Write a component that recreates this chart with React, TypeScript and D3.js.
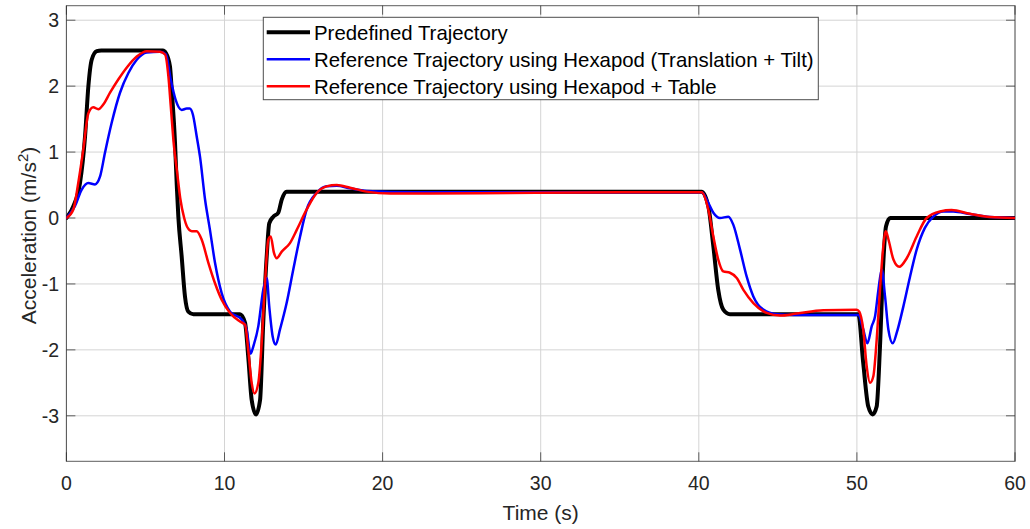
import React from "react";
import * as d3 from "d3";

// ---------- data ----------
const predefT = [0,0.44,0.86,1.18,1.39,1.6,1.92,2.2,6.1,6.3,6.55,6.66,6.87,6.98,7.08,7.29,7.5,7.71,8.03,10.98,11.3,11.5,11.72,11.99,12.25,12.45,12.67,12.83,13.09,13.4,13.62,13.93,40.18,40.6,40.92,41.23,41.55,41.97,50.09,50.4,50.72,51.0,51.25,51.46,51.67,51.84,52.1,60];
const predefA = [0,0.18,0.53,1.24,2.0,2.4,2.53,2.54,2.54,2.5,2.3,1.95,1.14,0.5,0.02,-0.58,-1.19,-1.42,-1.46,-1.46,-1.59,-2.1,-2.76,-2.98,-2.76,-1.59,-0.58,-0.08,0.02,0.08,0.28,0.4,0.4,0.18,-0.43,-1.09,-1.39,-1.46,-1.46,-2.2,-2.86,-2.98,-2.86,-1.95,-0.68,-0.13,0,0];

const hexT = [0,0.54,0.97,1.39,1.81,2.13,2.44,2.86,3.39,3.92,4.45,5.08,5.92,6.3,6.6,6.9,7.29,7.61,7.8,8.0,8.24,8.45,8.77,9.08,9.4,9.82,10.35,11.09,11.4,11.65,11.82,12.14,12.45,12.67,12.83,13.05,13.24,13.51,13.93,14.35,14.78,15.2,15.83,16.46,17.1,17.94,19,22,30,40.18,40.6,40.92,41.34,41.87,42.18,42.61,43.03,43.45,44.08,44.93,46,50.09,50.4,50.66,50.94,51.15,51.36,51.57,51.78,51.99,52.27,52.52,52.94,53.36,53.78,54.3,54.83,55.46,56.1,57.15,58.4,60];
const hexA = [0,0.18,0.43,0.53,0.51,0.63,0.99,1.44,1.9,2.2,2.4,2.51,2.52,2.48,2.1,1.8,1.64,1.66,1.66,1.57,1.24,0.93,0.28,-0.18,-0.68,-1.14,-1.42,-1.54,-1.69,-2.06,-1.95,-1.64,-1.09,-0.91,-1.34,-1.8,-1.92,-1.69,-1.29,-0.78,-0.28,0.13,0.38,0.48,0.49,0.45,0.41,0.39,0.39,0.39,0.23,0.08,0,0.02,-0.1,-0.48,-0.89,-1.19,-1.39,-1.46,-1.47,-1.47,-1.69,-1.9,-1.64,-1.49,-1.09,-0.78,-1.19,-1.69,-1.9,-1.74,-1.34,-0.89,-0.48,-0.15,0.02,0.1,0.1,0.06,0.015,0];

const tableT = [0,0.44,0.75,1.07,1.39,1.7,2.02,2.33,2.76,3.28,3.81,4.45,5.08,5.92,6.24,6.45,6.6,6.8,7.0,7.2,7.45,7.65,7.93,8.24,8.56,8.98,9.4,9.82,10.35,10.98,11.3,11.5,11.72,11.9,12.14,12.35,12.56,12.77,12.92,13.13,13.3,13.62,14.14,14.57,15.2,15.83,16.46,17.1,17.94,19,20.5,23,28,35,40.18,40.6,40.92,41.23,41.55,41.97,42.4,42.82,43.45,44.29,45.14,46.19,47.88,49.99,50.15,50.4,50.62,50.83,51.04,51.25,51.46,51.67,51.83,52.0,52.31,52.68,53.15,53.78,54.41,55.26,55.99,57.15,58.41,60];
const tableA = [0,0.13,0.53,1.04,1.59,1.68,1.65,1.72,1.9,2.1,2.28,2.45,2.53,2.52,2.48,2.15,1.7,1.1,0.7,0.3,0.0,-0.14,-0.2,-0.2,-0.33,-0.68,-0.99,-1.24,-1.44,-1.57,-1.62,-2.0,-2.5,-2.66,-2.5,-1.9,-0.99,-0.33,-0.28,-0.53,-0.61,-0.51,-0.38,-0.18,0.13,0.38,0.48,0.5,0.46,0.4,0.37,0.37,0.38,0.39,0.39,0.13,-0.28,-0.63,-0.81,-0.83,-0.91,-1.09,-1.29,-1.44,-1.48,-1.45,-1.4,-1.39,-1.42,-1.69,-2.25,-2.5,-2.4,-1.85,-1.09,-0.43,-0.2,-0.33,-0.63,-0.74,-0.61,-0.28,0,0.1,0.12,0.065,0.015,0];

const xTicks = [0, 10, 20, 30, 40, 50, 60];
const yTicks = [-3, -2, -1, 0, 1, 2, 3];
const legendLabels = [
  "Predefined Trajectory",
  "Reference Trajectory using Hexapod (Translation + Tilt)",
  "Reference Trajectory using Hexapod + Table",
];

// ---------- layout ----------
const W = 1030, H = 529;
const L = 66.4, R = 1015, T = 5.7, B = 461.3;
const FONT = "'Liberation Sans', Arial, Helvetica, sans-serif";
const AX = "#262626";

export default function App() {
  const x = d3.scaleLinear().domain([0, 60]).range([L, R]);
  const y = d3.scaleLinear().domain([-3.69, 3.22]).range([B, T]);
  const line = d3
    .line<[number, number]>()
    .x((d) => x(d[0]))
    .y((d) => y(d[1]))
    .curve(d3.curveMonotoneX);
  const zip = (t: number[], a: number[]) => t.map((v, i) => [v, a[i]] as [number, number]);

  const series = [
    { d: zip(predefT, predefA), color: "#000000", w: 4 },
    { d: zip(hexT, hexA), color: "#0000ff", w: 2.5 },
    { d: zip(tableT, tableA), color: "#ff0000", w: 2.5 },
  ];

  const legX = 263.3, legY = 17.3, legW = 555, legH = 82.4;
  const rowY = [33, 60, 87];

  return (
    <div style={{ position: "absolute", left: 0, top: 0 }}>
      <svg width={W} height={H} style={{ display: "block", background: "#fff" }}>
        <rect x={0} y={0} width={W} height={H} fill="#fff" />
        <defs>
          <clipPath id="plotclip">
            <rect x={L} y={T} width={R - L} height={B - T} />
          </clipPath>
        </defs>
        {/* grid */}
        {xTicks.map((t) => (
          <line key={"gx" + t} x1={x(t)} x2={x(t)} y1={T} y2={B} stroke="#d4d4d4" strokeWidth={1} />
        ))}
        {yTicks.map((t) => (
          <line key={"gy" + t} x1={L} x2={R} y1={y(t)} y2={y(t)} stroke="#d4d4d4" strokeWidth={1} />
        ))}
        {/* ticks */}
        {xTicks.map((t) => (
          <g key={"tx" + t}>
            <line x1={x(t)} x2={x(t)} y1={B} y2={B - 9} stroke={AX} strokeOpacity={0.7} />
            <line x1={x(t)} x2={x(t)} y1={T} y2={T + 9} stroke={AX} strokeOpacity={0.7} />
          </g>
        ))}
        {yTicks.map((t) => (
          <g key={"ty" + t}>
            <line x1={L} x2={L + 9} y1={y(t)} y2={y(t)} stroke={AX} strokeOpacity={0.7} />
            <line x1={R} x2={R - 9} y1={y(t)} y2={y(t)} stroke={AX} strokeOpacity={0.7} />
          </g>
        ))}
        {/* box */}
        <rect x={L} y={T} width={R - L} height={B - T} fill="none" stroke={AX} strokeOpacity={0.75} strokeWidth={1} />
        {/* series */}
        <g clipPath="url(#plotclip)">
          {series.map((s, i) => (
            <path key={i} d={line(s.d) || ""} fill="none" stroke={s.color} strokeWidth={s.w} strokeLinejoin="round" strokeLinecap="round" />
          ))}
        </g>
        {/* tick labels */}
        {xTicks.map((t) => (
          <text key={"lx" + t} x={x(t)} y={490} textAnchor="middle" fontFamily={FONT} fontSize={19.5} fill={AX}>
            {t}
          </text>
        ))}
        {yTicks.map((t) => (
          <text key={"ly" + t} x={59} y={y(t)} dy="0.35em" textAnchor="end" fontFamily={FONT} fontSize={19.5} fill={AX}>
            {t}
          </text>
        ))}
        {/* axis labels */}
        <text x={(L + R) / 2} y={520} textAnchor="middle" fontFamily={FONT} fontSize={21} fill={AX}>
          Time (s)
        </text>
        <text
          transform={`translate(36,${(T + B) / 2 + 2}) rotate(-90)`}
          textAnchor="middle"
          fontFamily={FONT}
          fontSize={21}
          fill={AX}
        >
          Acceleration (m/s<tspan fontSize={15} dy={-8}>2</tspan>
          <tspan dy={8}>)</tspan>
        </text>
        {/* legend */}
        <rect x={legX} y={legY} width={legW} height={legH} fill="#fff" stroke="#4d4d4d" strokeWidth={1} />
        {series.map((s, i) => (
          <g key={"leg" + i}>
            <line x1={266.7} x2={310} y1={rowY[i] - 0.7} y2={rowY[i] - 0.7} stroke={s.color} strokeWidth={s.w} />
            <text x={314} y={rowY[i]} dy="0.35em" fontFamily={FONT} fontSize={20.4} fill="#000">
              {legendLabels[i]}
            </text>
          </g>
        ))}
      </svg>
    </div>
  );
}
